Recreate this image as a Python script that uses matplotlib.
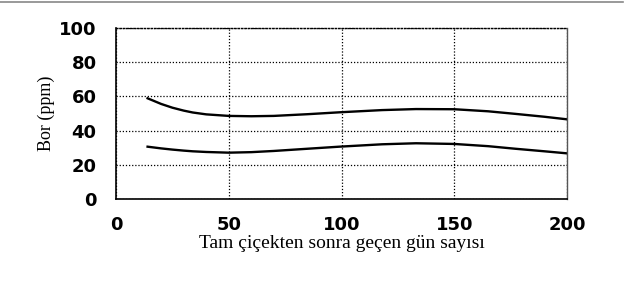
import matplotlib.pyplot as plt
from matplotlib.lines import Line2D

# values
days = [14, 20, 25, 30, 34, 40, 50, 60, 70, 85, 99, 118, 133, 150, 165, 177, 190, 200]
bor_upper = [58.9, 55.6, 53.4, 51.7, 50.6, 49.5, 48.6, 48.4, 48.6, 49.6, 50.7, 52.0, 52.6, 52.5, 51.3, 49.8, 48.1, 46.6]
bor_lower = [30.6, 29.6, 28.9, 28.3, 27.9, 27.5, 27.1, 27.4, 28.1, 29.4, 30.6, 32.0, 32.6, 32.2, 30.9, 29.4, 27.9, 26.7]

xticks = [0, 50, 100, 150, 200]
yticks = [0, 20, 40, 60, 80, 100]

fig = plt.figure(figsize=(6.42, 2.81), dpi=100)
ax = fig.add_axes([0.1807, 0.2918, 0.7025, 0.6085])

ax.plot(days, bor_upper, color='black', lw=1.7)
ax.plot(days, bor_lower, color='black', lw=1.7)

ax.set_xlim(0, 200)
ax.set_ylim(0, 100)
ax.set_xticks(xticks)
ax.set_yticks(yticks)
ax.set_xticklabels([str(t) for t in xticks], fontsize=13, fontweight='bold')
ax.set_yticklabels([str(t) for t in yticks], fontsize=13, fontweight='bold')
ax.tick_params(axis='x', length=0, pad=12)
ax.tick_params(axis='y', length=0, pad=14)

ax.grid(True, color='black', linestyle=(0, (1, 1.5)), linewidth=0.9)

ax.spines['left'].set_linewidth(1.2)
ax.spines['bottom'].set_linewidth(1.2)
ax.spines['top'].set_linestyle((0, (1, 1.5)))
ax.spines['top'].set_linewidth(1.0)
ax.spines['right'].set_color('#555555')
ax.spines['right'].set_linewidth(1.0)

ax.set_xlabel('Tam çiçekten sonra geçen gün sayısı', family='Liberation Serif',
              fontsize=14, labelpad=1)
ax.set_ylabel('Bor (ppm)', family='Liberation Serif', fontsize=13, labelpad=3)

# thin frame line across the top of the scan
fig.add_artist(Line2D([0.0, 0.97], [0.992, 0.992], color='#888888', lw=1.2,
                      transform=fig.transFigure))

fig.savefig('out.png', dpi=100)
